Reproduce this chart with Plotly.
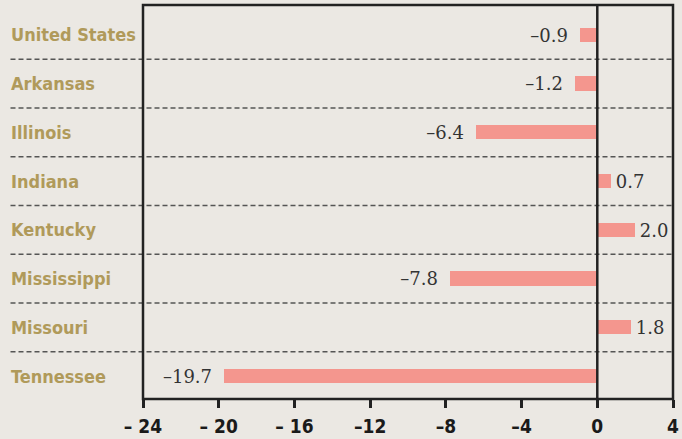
import plotly.graph_objects as go

states = ["United States", "Arkansas", "Illinois", "Indiana", "Kentucky",
          "Mississippi", "Missouri", "Tennessee"]
values = [-0.9, -1.2, -6.4, 0.7, 2.0, -7.8, 1.8, -19.7]
tick_vals = [-24, -20, -16, -12, -8, -4, 0, 4]
tick_text = ["\u2013 24", "\u2013 20", "\u2013 16", "\u201312", "\u20138", "\u20134", "0", "4"]

def fmt(v):
    s = f"{abs(v):.1f}"
    return ("\u2013" + s + "\u2002") if v < 0 else ("\u200a" + s)

bg = "#ebe8e3"
cond = "Liberation Sans Narrow, DejaVu Sans Condensed, sans-serif"
fig = go.Figure()
fig.add_trace(go.Bar(
    y=states, x=values, orientation="h", width=0.29,
    marker=dict(color="#f4968e", line=dict(width=0)),
    text=[fmt(v) for v in values], textposition="outside",
    constraintext="none",
    textfont=dict(family="DejaVu Serif, Liberation Serif, serif", size=18, color="#333333"),
    cliponaxis=False, hoverinfo="skip",
))

shapes = []
for i in range(len(states) - 1):
    shapes.append(dict(type="line", xref="paper", yref="y", x0=-0.25, x1=1,
                       y0=i + 0.5, y1=i + 0.5,
                       line=dict(color="#555555", width=1.5, dash="5px,3px")))
# zero line
shapes.append(dict(type="line", xref="x", yref="paper", x0=0, x1=0, y0=0, y1=1,
                   line=dict(color="#222222", width=2.5)))
# border box
shapes.append(dict(type="rect", xref="paper", yref="paper", x0=0, x1=1, y0=0, y1=1,
                   line=dict(color="#222222", width=2.5)))

annotations = []
for s in states:
    annotations.append(dict(xref="paper", yref="y", x=-0.252, y=s, text=s,
                            showarrow=False, xanchor="left", yanchor="middle",
                            font=dict(family=cond, size=18, color="#b09a5a", weight="bold")))

fig.update_layout(
    width=682, height=439,
    margin=dict(l=143, r=9, t=5, b=40),
    paper_bgcolor=bg, plot_bgcolor=bg,
    showlegend=False,
    shapes=shapes, annotations=annotations,
    bargap=0,
)
fig.update_xaxes(range=[-24, 4], tickvals=tick_vals, ticktext=tick_text,
                 ticks="outside", ticklen=8, tickwidth=2.5, tickcolor="#222222",
                 ticklabelstandoff=2, automargin=False,
                 showgrid=False, zeroline=False, showline=False,
                 tickfont=dict(family=cond, size=19, color="#1a1a1a", weight="bold"))
fig.update_yaxes(range=[7.47, -0.61], showticklabels=False, showgrid=False,
                 zeroline=False, showline=False, ticks="", automargin=False)
fig.write_html("out.html", config={"displayModeBar": False},
               post_script="document.body.style.margin='0';document.body.style.background='%s';" % bg)
